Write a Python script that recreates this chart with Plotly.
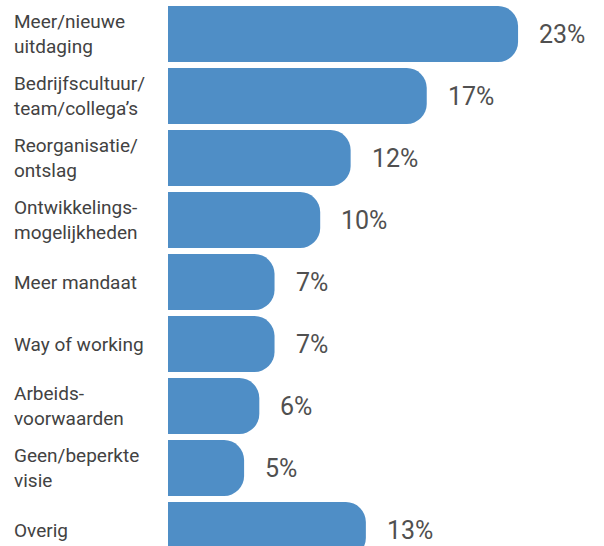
import plotly.graph_objects as go

categories = [
    "Meer/nieuwe<br>uitdaging",
    "Bedrijfscultuur/<br>team/collega’s",
    "Reorganisatie/<br>ontslag",
    "Ontwikkelings-<br>mogelijkheden",
    "Meer mandaat",
    "Way of working",
    "Arbeids-<br>voorwaarden",
    "Geen/beperkte<br>visie",
    "Overig",
]
values = [23, 17, 12, 10, 7, 7, 6, 5, 13]
value_labels = [f"{v}%" for v in values]

W, H = 604, 546
L = 168
ypos = list(range(len(categories)))

fig = go.Figure(go.Bar(
    x=values, y=ypos, orientation="h",
    marker=dict(color="#4f8ec6", cornerradius=20, line=dict(width=0)),
    width=0.9, hoverinfo="skip",
))

ann = []
for i, (c, v, t) in enumerate(zip(categories, values, value_labels)):
    ann.append(dict(x=(12 - L) / (W - L), xref="paper", y=i, yref="y",
                    text=c, showarrow=False, xanchor="left", yanchor="middle",
                    align="left", font=dict(family="Roboto", size=19, color="#424242")))
    ann.append(dict(x=v, xref="x", y=i, yref="y", text=t, showarrow=False,
                    xanchor="left", yanchor="middle", xshift=19,
                    font=dict(family="Roboto", size=25, color="#505050")))

fig.update_layout(
    width=W, height=H,
    margin=dict(l=L, r=0, t=0, b=0),
    paper_bgcolor="white", plot_bgcolor="white",
    showlegend=False,
    xaxis=dict(range=[0, (W - L) / 15.22], visible=False, fixedrange=True),
    yaxis=dict(range=[8 + 16 / 62, -34 / 62], visible=False, fixedrange=True),
    annotations=ann,
)

fig.write_html("out.html", config={"displayModeBar": False},
               post_script="document.body.style.margin='0';document.body.style.overflow='hidden';")
